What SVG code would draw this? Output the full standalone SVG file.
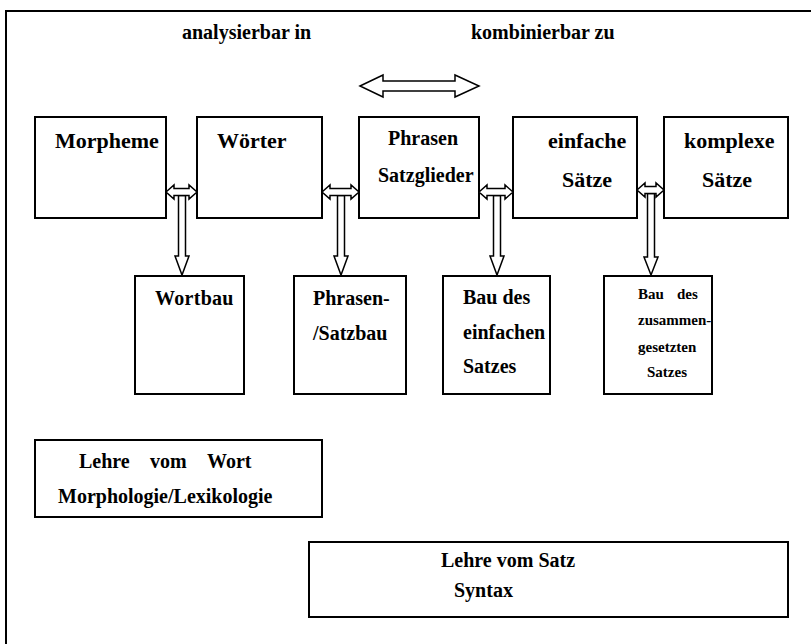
<svg xmlns="http://www.w3.org/2000/svg" width="811" height="644" viewBox="0 0 811 644">
<style>
.box{fill:#fff;stroke:#000;stroke-width:2}
.arr{fill:#fff;stroke:#000;stroke-width:1.5;stroke-linejoin:miter}
.lbl{font-family:'Liberation Serif','Times New Roman','DejaVu Serif',serif;font-weight:bold;fill:#000}
.t22{font-size:22px}
.t20{font-size:20px}
.t15{font-size:15px}
</style>
<rect x="0" y="0" width="811" height="644" fill="#fff"/>
<rect x="6" y="11" width="830" height="660" fill="none" stroke="#000" stroke-width="2"/>
<g id="labels" class="lbl" font-family="Liberation Serif, serif">
<text class="t20" x="182" y="39">analysierbar in</text>
<text class="t20" x="471" y="39">kombinierbar zu</text>
</g>
<g id="top-arrow">
<polygon class="arr" points="360,86 383,75 383,81 455,81 455,75 479,86 455,97 455,91 383,91 383,97"/>
</g>
<g id="n-morpheme" class="lbl"><rect class="box" x="35" y="117" width="131" height="101"/><text class="t22" x="55" y="148">Morpheme</text></g>
<g id="n-woerter" class="lbl"><rect class="box" x="197" y="117" width="125" height="101"/><text class="t22" x="217" y="148">Wörter</text></g>
<g id="n-phrasen" class="lbl"><rect class="box" x="359" y="117" width="120" height="101"/><text class="t20" x="388" y="145">Phrasen</text><text class="t20" x="378" y="182">Satzglieder</text></g>
<g id="n-einfache" class="lbl"><rect class="box" x="513" y="117" width="124" height="101"/><text class="t22" x="548" y="148">einfache</text><text class="t22" x="562" y="187">Sätze</text></g>
<g id="n-komplexe" class="lbl"><rect class="box" x="664" y="117" width="124" height="101"/><text class="t22" x="684" y="148">komplexe</text><text class="t22" x="702" y="187">Sätze</text></g>
<g id="n-wortbau" class="lbl"><rect class="box" x="135" y="276" width="109" height="118"/><text class="t20" x="155" y="305" letter-spacing="0.3">Wortbau</text></g>
<g id="n-satzbau" class="lbl"><rect class="box" x="294" y="276" width="112" height="118"/><text class="t20" x="313" y="305">Phrasen-</text><text class="t20" x="313" y="340">/Satzbau</text></g>
<g id="n-einfachsatz" class="lbl"><rect class="box" x="443" y="276" width="107" height="118"/><text class="t20" x="463" y="304">Bau des</text><text class="t20" x="463" y="339">einfachen</text><text class="t20" x="463" y="373">Satzes</text></g>
<g id="n-zusatz" class="lbl"><rect class="box" x="604" y="276" width="108" height="118"/><text class="t15" x="638" y="299">Bau</text><text class="t15" x="677" y="299">des</text><text class="t15" x="638" y="325">zusammen-</text><text class="t15" x="638" y="352">gesetzten</text><text class="t15" x="647" y="377">Satzes</text></g>
<g id="n-lehre-wort" class="lbl"><rect class="box" x="35" y="440" width="287" height="77"/><text class="t20" x="79" y="468">Lehre</text><text class="t20" x="150" y="468">vom</text><text class="t20" x="207" y="468">Wort</text><text class="t20" x="58" y="503">Morphologie/Lexikologie</text></g>
<g id="n-lehre-satz" class="lbl"><rect class="box" x="309" y="542" width="479" height="75"/><text class="t20" x="441" y="567">Lehre vom Satz</text><text class="t20" x="454" y="597">Syntax</text></g>
<g id="connectors">
<polygon class="arr" points="178.5,195.5 178.5,256 175,256 182,275 189,256 185.5,256 185.5,195.5"/>
<polygon class="arr" points="166,192 174,185 174,188.5 189,188.5 189,185 197,192 189,199 189,195.5 174,195.5 174,199"/>
<polygon class="arr" points="337.5,195.5 337.5,256 334,256 341,275 348,256 344.5,256 344.5,195.5"/>
<polygon class="arr" points="322,192 330,185 330,188.5 351,188.5 351,185 359,192 351,199 351,195.5 330,195.5 330,199"/>
<polygon class="arr" points="493.5,195.5 493.5,256 490,256 497,275 504,256 500.5,256 500.5,195.5"/>
<polygon class="arr" points="479,192 487,185 487,188.5 505,188.5 505,185 513,192 505,199 505,195.5 487,195.5 487,199"/>
<polygon class="arr" points="647.5,193.5 647.5,257 644,257 651,275 658,257 654.5,257 654.5,193.5"/>
<polygon class="arr" points="637,190 645,183 645,186.5 656,186.5 656,183 664,190 656,197 656,193.5 645,193.5 645,197"/>
</g>
</svg>
